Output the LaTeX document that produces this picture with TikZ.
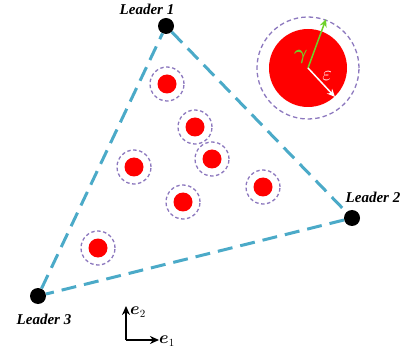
\documentclass[tikz,border=0pt]{standalone}
\usepackage{amsmath}
\usepackage{bm}
\usepackage{fontspec}
\setmainfont{Liberation Serif}
\usetikzlibrary{arrows.meta}
\definecolor{edgeblue}{RGB}{75,170,200}
\definecolor{ringpurple}{RGB}{140,120,190}
\definecolor{agentred}{RGB}{255,0,0}
\definecolor{gammagreen}{RGB}{110,210,40}
\tikzset{
  leader/.style={circle,fill=black,inner sep=0pt,minimum size=16pt},
  leaderlabel/.style={font=\fontsize{15}{17}\selectfont\bfseries\itshape},
  edge/.style={edgeblue,line width=3pt,dash pattern=on 15pt off 8pt},
  agent/.style={circle,fill=agentred,inner sep=0pt,minimum size=19pt},
  ring/.style={circle,draw=ringpurple,dash pattern=on 3.5pt off 2.5pt,line width=1.3pt,inner sep=0pt,minimum size=34pt},
  axis/.style={line width=2.6pt,-{Stealth[length=9pt,width=8pt]}}
}
\begin{document}
\begin{tikzpicture}[x=1pt,y=-1pt]
\useasboundingbox (0,0) rectangle (409,347);
% leaders
\node[leader] (L1) at (166,26) {};
\node[leader] (L2) at (352,218) {};
\node[leader] (L3) at (38,296) {};
\draw[edge] (L1) -- (L2);
\draw[edge] (L2) -- (L3);
\draw[edge] (L3) -- (L1);
\node[leaderlabel] (t1) at (147,9) {Leader 1};
\node[leaderlabel] (t2) at (373,197) {Leader 2};
\node[leaderlabel] (t3) at (44,319) {Leader 3};
% agents
\foreach \n/\x/\y in {a/167/84, b/195/127, c/212/159, d/134/167, e/183/202, f/263/187, g/98/248}{
  \node[ring] (r\n) at (\x,\y) {};
  \node[agent] (\n) at (\x,\y) {};
}
% big circle
\node[circle,draw=ringpurple,dash pattern=on 4.5pt off 3pt,line width=1.3pt,inner sep=0pt,minimum size=102pt] (bigring) at (308,68) {};
\node[circle,fill=agentred,inner sep=0pt,minimum size=78pt] (big) at (308,68) {};
\coordinate (gtip) at (326,19);
\coordinate (etip) at (335,97);
\draw[gammagreen,line width=1.5pt,-{Stealth[length=8pt,width=7pt]}] (big.center) -- (gtip);
\draw[white,line width=1.5pt,-{Stealth[length=8pt,width=7pt]}] (big.center) -- (etip);
\node[gammagreen,font=\fontsize{21}{23}\selectfont] (gl) at (301,57) {$\bm{\gamma}$};
\node[white,font=\fontsize{20}{22}\selectfont] (el) at (327,76) {$\varepsilon$};
% axes
\coordinate (o) at (126,340);
\coordinate (e1t) at (159,340);
\coordinate (e2t) at (126,306);
\draw[axis] (o) -- (e1t);
\draw[axis] (o) -- (e2t);
\node[anchor=west,inner sep=1pt,font=\fontsize{16}{18}\selectfont] (e1l) at (158,341) {$\bm{e}_1$};
\node[anchor=west,inner sep=1pt,font=\fontsize{16}{18}\selectfont] (e2l) at (129,312) {$\bm{e}_2$};
\end{tikzpicture}
\end{document}
